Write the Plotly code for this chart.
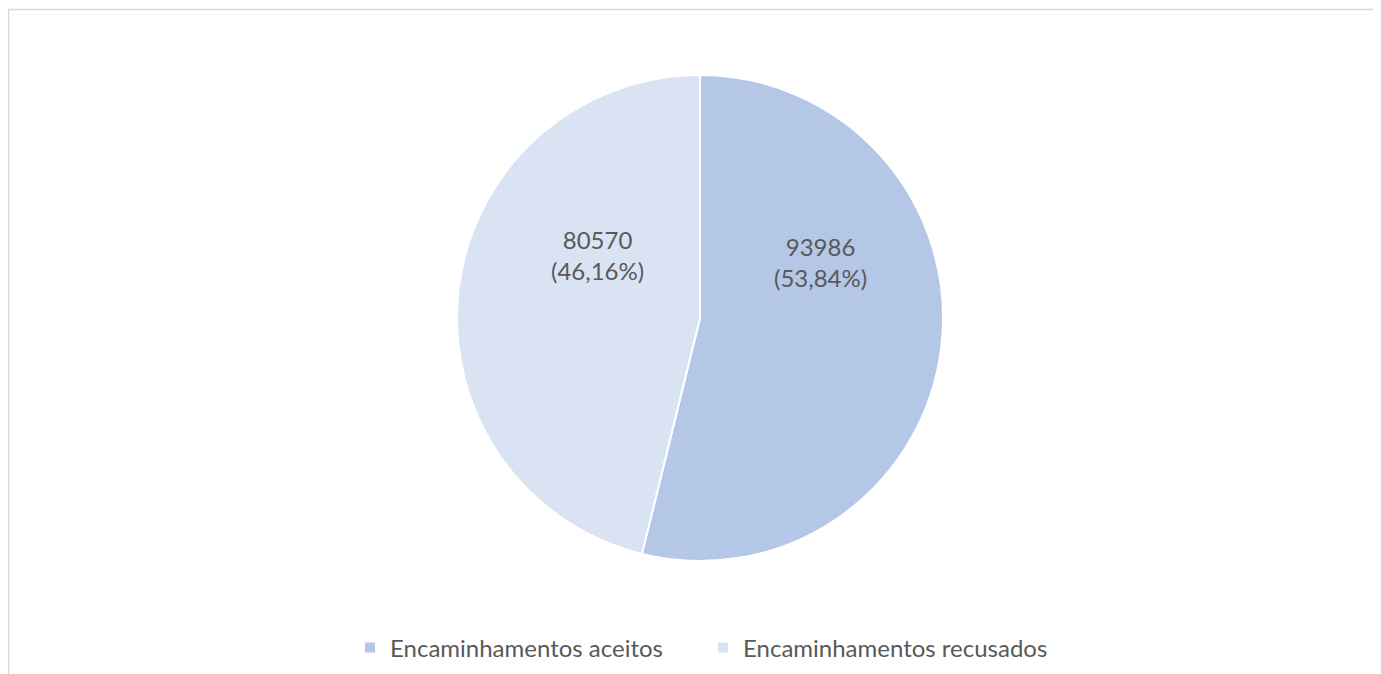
import plotly.graph_objects as go

labels = ["Encaminhamentos aceitos", "Encaminhamentos recusados"]
values = [93986, 80570]
pct_text = ["53,84%", "46,16%"]
colors = ["#B4C7E7", "#DAE3F3"]

# figure placed at (8,8) in the page by the body margin
W, H = 1373, 666
OX, OY = 8, 8

def px(x):
    return (x - OX) / W

def py(y):
    return 1 - (y - OY) / H

# label anchor points (layout positions, reference pixel coords)
label_pos = [(820, 262), (597, 255)]

fig = go.Figure(go.Pie(
    labels=labels,
    values=values,
    textinfo="none",
    marker=dict(colors=colors, line=dict(color="white", width=2)),
    sort=False,
    direction="clockwise",
    rotation=0,
    domain=dict(x=[px(457), px(943)], y=[py(561), py(75)]),
))

annotations = []
for v, p, (ax_, ay_) in zip(values, pct_text, label_pos):
    annotations.append(dict(
        xref="paper", yref="paper", x=px(ax_), y=py(ay_),
        xanchor="center", yanchor="middle", showarrow=False,
        text=f"{v}<br>({p})",
        font=dict(family="Lato, Open Sans, sans-serif", size=24, color="#595959"),
    ))

fig.update_layout(
    width=W, height=H,
    margin=dict(l=0, r=0, t=0, b=0),
    paper_bgcolor="white",
    plot_bgcolor="white",
    showlegend=True,
    annotations=annotations,
    legend=dict(
        orientation="h",
        x=px(350), xanchor="left",
        y=py(648), yanchor="middle",
        font=dict(family="Lato, Open Sans, sans-serif", size=24, color="#595959"),
        itemwidth=30,
        entrywidth=308,
        entrywidthmode="pixels",
    ),
    shapes=[dict(
        type="rect", xref="paper", yref="paper",
        x0=px(8.5), x1=px(1379), y0=-0.05, y1=py(9.5),
        line=dict(color="#D9D9D9", width=1.5),
        fillcolor="rgba(0,0,0,0)",
    )],
)

fig.write_html("out.html")
